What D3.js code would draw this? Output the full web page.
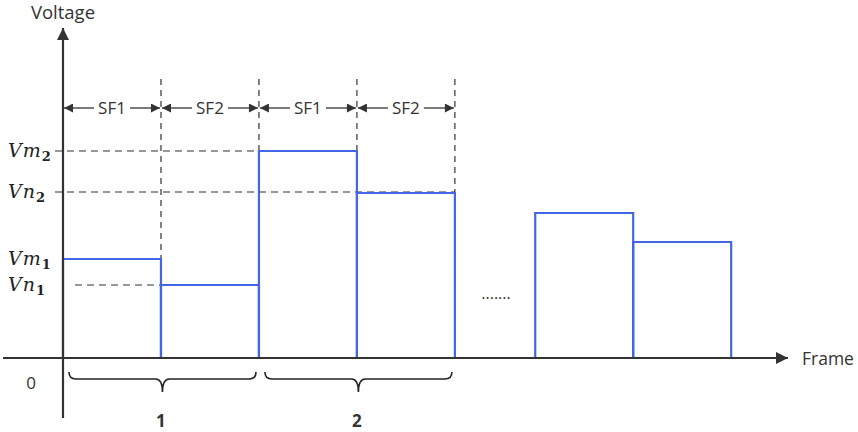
<!DOCTYPE html>
<html>
<head>
<meta charset="utf-8">
<script src="https://cdn.jsdelivr.net/npm/d3@7"></script>
<style>
  body { margin: 0; background: #fff; }
  text { font-family: "Open Sans", "Noto Sans", sans-serif; fill: #333; }
  .math { font-family: "DejaVu Serif", serif; font-style: italic; fill: #222; }
</style>
</head>
<body>
<div id="chart"></div>
<script>
// sub-frame values (voltage, arbitrary units) for each frame
const frameStarts = [0, 2, 4.82];
const frameValues = [[99, 73], [207, 165], [145, 116]];
const frameLabels = ["1", "2", ""];
const levelLabels = [
  {base: "Vm", sub: "2", v: 207, dashTo: 2},
  {base: "Vn", sub: "2", v: 166, dashTo: 4},
  {base: "Vm", sub: "1", v: 99, dashTo: null},
  {base: "Vn", sub: "1", v: 73, dashTo: 1}
];
const subFrameNames = ["SF1", "SF2", "SF1", "SF2"];

const width = 858, height = 432;
const x = d3.scaleLinear().domain([0, 7.4]).range([63, 788]);
const y = d3.scaleLinear().domain([0, 330]).range([358, 28]);

const svg = d3.select('#chart').append('svg')
  .attr('width', width).attr('height', height);

const defs = svg.append('defs');
defs.append('marker').attr('id', 'axisArrow')
  .attr('viewBox', '0 0 10 10').attr('refX', 10).attr('refY', 5)
  .attr('markerWidth', 14).attr('markerHeight', 12).attr('markerUnits', 'userSpaceOnUse')
  .attr('orient', 'auto')
  .append('path').attr('d', 'M0,0 L10,5 L0,10 Z').attr('fill', '#333');
defs.append('marker').attr('id', 'sfArrow')
  .attr('viewBox', '0 0 10 10').attr('refX', 10).attr('refY', 5)
  .attr('markerWidth', 11).attr('markerHeight', 9).attr('markerUnits', 'userSpaceOnUse')
  .attr('orient', 'auto')
  .append('path').attr('d', 'M0,0 L10,5 L0,10 Z').attr('fill', '#333');

// vertical dashed separators
const sepX = [1, 2, 3, 4];
svg.selectAll('.vsep').data(sepX).enter().append('line')
  .attr('x1', d => x(d)).attr('x2', d => x(d))
  .attr('y1', 79).attr('y2', y(0))
  .attr('stroke', '#333').attr('stroke-width', 1.2).attr('stroke-dasharray', '6,5');

// horizontal dashed level lines
svg.selectAll('.hdash').data(levelLabels.filter(d => d.dashTo !== null)).enter().append('line')
  .attr('x1', d => d.sub === '1' ? 75 : 55).attr('x2', d => x(d.dashTo))
  .attr('y1', d => y(d.v)).attr('y2', d => y(d.v))
  .attr('stroke', '#333').attr('stroke-width', 1.2).attr('stroke-dasharray', '7,5');

// blue sub-frame steps
const bars = [];
frameValues.forEach((vals, i) => {
  vals.forEach((v, j) => bars.push({x0: frameStarts[i] + j, x1: frameStarts[i] + j + 1, v: v}));
});
svg.selectAll('.bar').data(bars).enter().append('path')
  .attr('d', d => `M${x(d.x0)},${y(0)} V${y(d.v)} H${x(d.x1)} V${y(0)}`)
  .attr('fill', 'none').attr('stroke', '#4466e6').attr('stroke-width', 2.2);

// axes
svg.append('line').attr('x1', 63).attr('x2', 63).attr('y1', 418).attr('y2', 28)
  .attr('stroke', '#333').attr('stroke-width', 2.2).attr('marker-end', 'url(#axisArrow)');
svg.append('line').attr('x1', 3).attr('x2', 788).attr('y1', y(0)).attr('y2', y(0))
  .attr('stroke', '#333').attr('stroke-width', 2.2).attr('marker-end', 'url(#axisArrow)');

svg.append('text').attr('x', 63).attr('y', 19).attr('text-anchor', 'middle')
  .attr('font-size', 18.5).text('Voltage');
svg.append('text').attr('x', 802).attr('y', 365).attr('font-size', 17.5).text('Frame');
svg.append('text').attr('x', 31).attr('y', 389).attr('text-anchor', 'middle')
  .attr('font-size', 17).text('0');

// SF arrows
const sfY = 108;
subFrameNames.forEach((name, i) => {
  const a = x(i), b = x(i + 1), m = (a + b) / 2, gap = 18;
  svg.append('line').attr('x1', m - gap).attr('x2', a + 1).attr('y1', sfY).attr('y2', sfY)
    .attr('stroke', '#333').attr('stroke-width', 1.3).attr('marker-end', 'url(#sfArrow)');
  svg.append('line').attr('x1', m + gap).attr('x2', b - 1).attr('y1', sfY).attr('y2', sfY)
    .attr('stroke', '#333').attr('stroke-width', 1.3).attr('marker-end', 'url(#sfArrow)');
  svg.append('text').attr('x', m).attr('y', sfY + 6).attr('text-anchor', 'middle')
    .attr('font-size', 17).text(name);
});

// level labels
levelLabels.forEach(d => {
  const t = svg.append('text').attr('class', 'math').attr('x', 8).attr('y', y(d.v) + 6)
    .attr('font-size', 19).attr('letter-spacing', 1);
  t.append('tspan').text(d.base);
  t.append('tspan').attr('dy', 4).attr('font-size', 13).attr('font-style', 'normal')
    .attr('font-weight', 'bold').attr('letter-spacing', 0).text(d.sub);
});

// braces under frames
function brace(x1, x2) {
  const y0 = 372, y1 = 379, y2 = 392, r = 7, m = (x1 + x2) / 2;
  return `M${x1},${y0} Q${x1},${y1} ${x1 + r},${y1} L${m - r},${y1} Q${m},${y1} ${m},${y2}` +
         ` Q${m},${y1} ${m + r},${y1} L${x2 - r},${y1} Q${x2},${y1} ${x2},${y0}`;
}
frameLabels.forEach((lab, i) => {
  if (!lab) return;
  const a = x(frameStarts[i]) + 6, b = x(frameStarts[i] + 2) - 3;
  svg.append('path').attr('d', brace(a, b)).attr('fill', 'none')
    .attr('stroke', '#222').attr('stroke-width', 1.6);
  svg.append('text').attr('x', x(frameStarts[i] + 1)).attr('y', 427)
    .attr('text-anchor', 'middle').attr('font-size', 17).attr('font-weight', 'bold').text(lab);
});

// ellipsis between frames
svg.append('text').attr('x', 496).attr('y', 299).attr('text-anchor', 'middle')
  .attr('font-size', 16).text('.......');
</script>
</body>
</html>
